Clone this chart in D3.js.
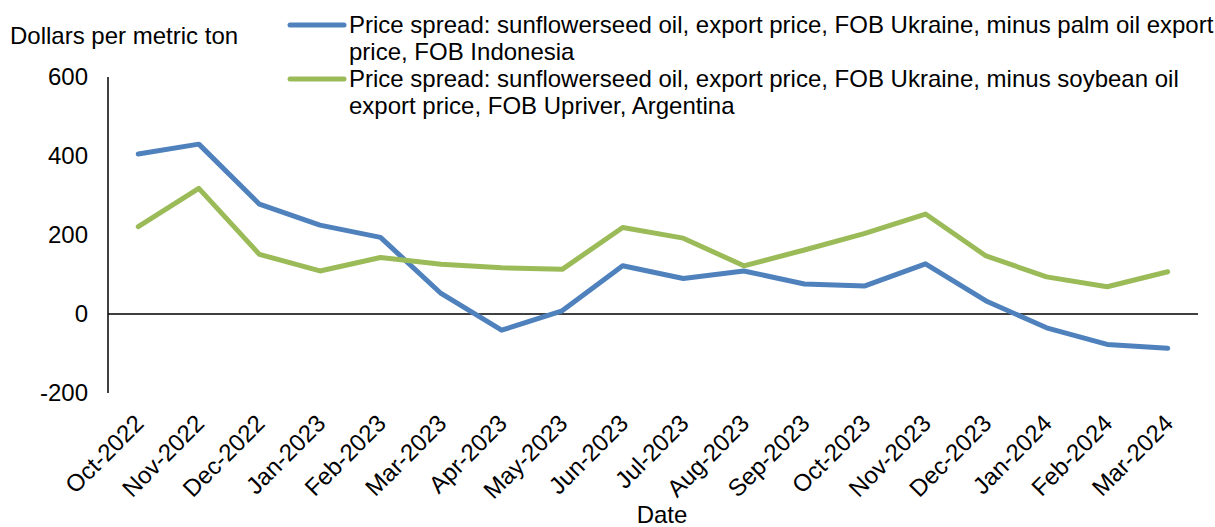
<!DOCTYPE html>
<html>
<head>
<meta charset="utf-8">
<script src="https://cdn.jsdelivr.net/npm/d3@7"></script>
<style>
  html, body { margin: 0; padding: 0; background: #fff; }
  svg { display: block; font-family: "Liberation Sans", Arial, sans-serif; }
</style>
</head>
<body>
<svg class="target" width="1215" height="527"></svg>
<script>
const months = ["Oct-2022", "Nov-2022", "Dec-2022", "Jan-2023", "Feb-2023", "Mar-2023",
  "Apr-2023", "May-2023", "Jun-2023", "Jul-2023", "Aug-2023", "Sep-2023",
  "Oct-2023", "Nov-2023", "Dec-2023", "Jan-2024", "Feb-2024", "Mar-2024"];

const palmSpread = [405, 430, 278, 225, 194, 52, -41, 8, 122, 90, 109, 76, 71, 127, 33, -35, -77, -87];
const soySpread = [221, 318, 151, 109, 143, 126, 117, 113, 219, 192, 122, 162, 204, 253, 147, 94, 69, 107];

const yTicks = [-200, 0, 200, 400, 600];

const seriesNames = [
  ["Price spread: sunflowerseed oil, export price, FOB Ukraine, minus palm oil export", "price, FOB Indonesia"],
  ["Price spread: sunflowerseed oil, export price, FOB Ukraine, minus soybean oil", "export price, FOB Upriver, Argentina"]
];
const seriesColors = ["#4F81BD", "#9BBB59"];

const series = [palmSpread, soySpread].map((values, i) => ({
  name: seriesNames[i],
  color: seriesColors[i],
  values: values.map((v, j) => ({ month: months[j], value: v }))
}));

const svg = d3.select(".target");
const plotLeft = 108, plotRight = 1198, plotTop = 77, plotBottom = 393;
const fontSize = 24;

const x = d3.scalePoint().domain(months).range([plotLeft, plotRight]).padding(0.5);
const y = d3.scaleLinear().domain([-200, 600]).range([plotBottom, plotTop]);

// y axis line
svg.append("line")
  .attr("x1", plotLeft).attr("x2", plotLeft)
  .attr("y1", plotTop).attr("y2", plotBottom)
  .attr("stroke", "#000").attr("stroke-width", 1.5);

// y tick labels
svg.append("g")
  .selectAll("text")
  .data(yTicks)
  .enter()
  .append("text")
  .attr("x", 88)
  .attr("y", (d) => y(d))
  .attr("dy", "0.35em")
  .attr("text-anchor", "end")
  .style("font-size", fontSize + "px")
  .text((d) => d);

// zero line (category axis)
svg.append("line")
  .attr("x1", plotLeft).attr("x2", plotRight)
  .attr("y1", y(0)).attr("y2", y(0))
  .attr("stroke", "#000").attr("stroke-width", 1.5);

// x tick labels, rotated
svg.append("g")
  .selectAll("text")
  .data(months)
  .enter()
  .append("text")
  .attr("transform", (d) => `translate(${x(d) - 5}, 413) rotate(-45)`)
  .attr("text-anchor", "end")
  .attr("dy", "0.7em")
  .style("font-size", fontSize + "px")
  .text((d) => d);

// lines
const line = d3.line().x((d) => x(d.month)).y((d) => y(d.value));
svg.append("g")
  .selectAll("path")
  .data(series)
  .enter()
  .append("path")
  .attr("d", (d) => line(d.values))
  .attr("fill", "none")
  .attr("stroke", (d) => d.color)
  .attr("stroke-width", 5)
  .attr("stroke-linejoin", "round")
  .attr("stroke-linecap", "round");

// axis titles
svg.append("text")
  .attr("x", 10).attr("y", 44)
  .style("font-size", fontSize + "px")
  .text("Dollars per metric ton");

svg.append("text")
  .attr("x", (plotLeft + plotRight) / 2 + 9).attr("y", 523)
  .attr("text-anchor", "middle")
  .style("font-size", fontSize + "px")
  .text("Date");

// legend
const legend = svg.append("g")
  .selectAll("g")
  .data(series)
  .enter()
  .append("g")
  .attr("transform", (d, i) => `translate(290, ${25 + i * 54})`);

legend.append("line")
  .attr("x1", 0).attr("x2", 54)
  .attr("stroke", (d) => d.color)
  .attr("stroke-width", 5)
  .attr("stroke-linecap", "round");

legend.append("text")
  .attr("x", 59)
  .style("font-size", fontSize + "px")
  .selectAll("tspan")
  .data((d) => d.name)
  .enter()
  .append("tspan")
  .attr("x", 59)
  .attr("y", (d, i) => 8 + i * 26.5)
  .text((d) => d);
</script>
</body>
</html>
